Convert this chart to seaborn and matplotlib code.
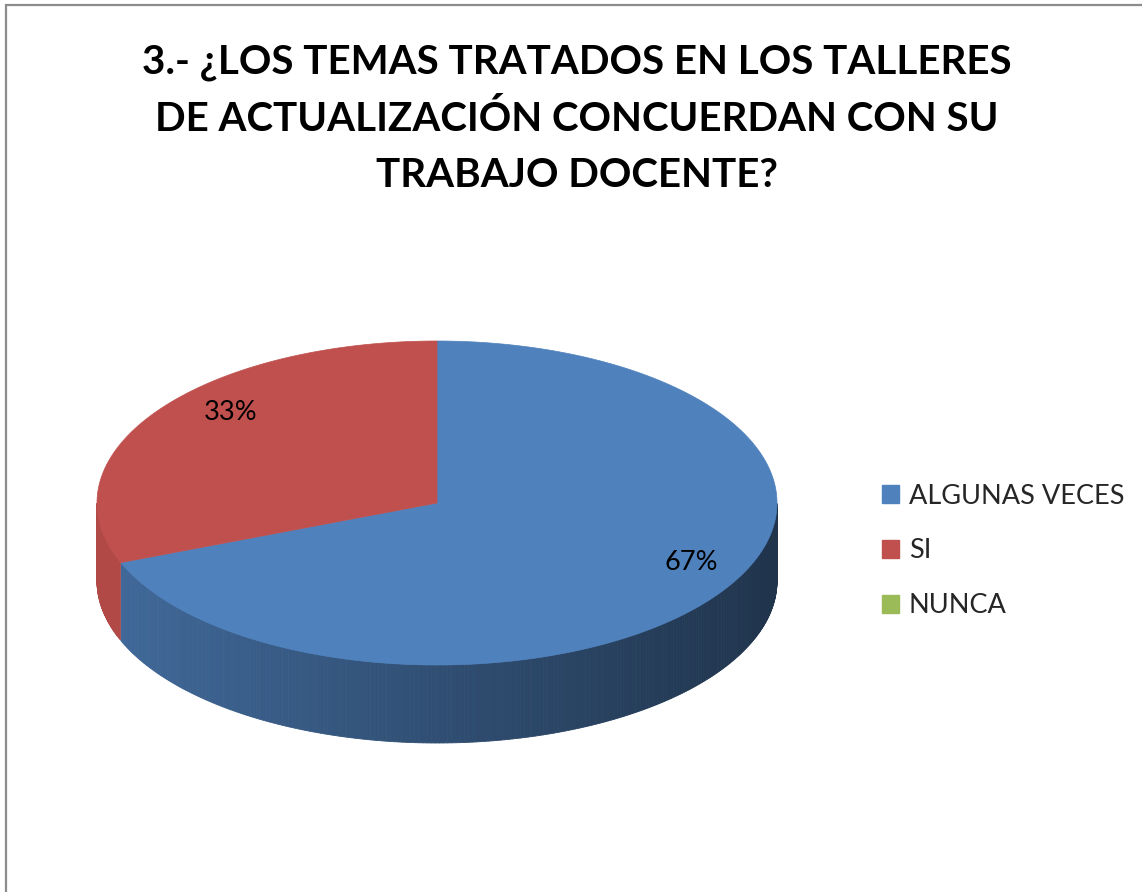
import numpy as np
import matplotlib
matplotlib.use("Agg")
import matplotlib.pyplot as plt
import seaborn as sns
from matplotlib.patches import Polygon, Patch, Rectangle
import matplotlib.colors as mcolors

# ---- data ----
categories = ["ALGUNAS VECES", "SI", "NUNCA"]
values = [67, 33, 0]
pct_labels = ["67%", "33%", ""]
title = "3.- ¿LOS TEMAS TRATADOS EN LOS TALLERES\nDE ACTUALIZACIÓN CONCUERDAN CON SU\nTRABAJO DOCENTE?"

sns.set_theme(style="white")
plt.rcParams['font.family'] = ['Lato', 'DejaVu Sans']
colors = sns.color_palette(["#4F81BD", "#C0504D", "#9BBB59"])

W, H = 1142, 892
fig = plt.figure(figsize=(W / 100, H / 100), dpi=100)
ax = fig.add_axes([0, 0, 1, 1])
ax.set_xlim(0, W)
ax.set_ylim(H, 0)
ax.axis("off")

# pie geometry (pixel-like coordinates)
cx, cy, a, b, depth = 437, 503, 340, 162, 78
persp = 1.39  # angular perspective stretch

def pt(t):
    r = np.radians(t)
    rs = np.arctan2(np.sin(r), persp * np.cos(r))
    return cx + a * np.cos(rs), cy - b * np.sin(rs)

def screen_angle(t):
    r = np.radians(t)
    return np.degrees(np.arctan2(np.sin(r), persp * np.cos(r))) % 360

total = sum(values)
start = 90.0
spans = []
cum = 0
for v in values:
    t1 = start - cum / total * 360
    cum += v
    t2 = start - cum / total * 360
    spans.append((t2, t1))

def shade(c, f):
    c = np.array(mcolors.to_rgb(c))
    return tuple(np.clip(c * f, 0, 1))

# side walls
for i, ((t2, t1), col, v) in enumerate(zip(spans, colors, values)):
    if v == 0:
        continue
    ts = np.arange(t2, t1 + 0.01, 0.5)
    for k in range(len(ts) - 1):
        ta, tb = ts[k], ts[k + 1]
        xa, ya = pt(ta)
        xb, yb = pt(tb)
        tm = (ta + tb) / 2
        if np.sin(np.radians(tm)) >= 0:
            continue
        if i == 0:
            f = 0.61 - 0.21 * np.cos(np.radians(screen_angle(tm)))
        else:
            f = 0.92
        fc = shade(col, f)
        ax.add_patch(Polygon([(xa, ya), (xb, yb), (xb, yb + depth), (xa, ya + depth)],
                             closed=True, facecolor=fc, edgecolor=fc, linewidth=0.6))

# top faces
for (t2, t1), col, v in zip(spans, colors, values):
    if v == 0:
        continue
    ts = np.linspace(t2, t1, 300)
    pts = [(cx, cy)] + [pt(t) for t in ts]
    ax.add_patch(Polygon(pts, closed=True, facecolor=col, edgecolor=col, linewidth=0.5))

# percentage labels
ax.text(231, 413, pct_labels[1], fontsize=19.5, ha="center", va="center", color="black")
ax.text(691, 563, pct_labels[0], fontsize=19.5, ha="center", va="center", color="black")

# title
ax.text(577, 119, title, fontsize=29, fontweight="bold", ha="center", va="center",
        linespacing=1.62, color="black")

# legend
handles = [Patch(facecolor=c, edgecolor=c) for c in colors]
fig.legend(handles, categories, loc="center left", bbox_to_anchor=(858 / W, 1 - 551 / H),
           frameon=False, fontsize=19.5, handlelength=0.62, handleheight=0.62,
           handletextpad=0.35, labelspacing=1.1)

# border
fig.patches.append(Rectangle((5.5 / W, -0.02), 1.05, 1 - 5 / H + 0.02,
                             transform=fig.transFigure, fill=False,
                             edgecolor="#8c8c8c", linewidth=1.6))

fig.savefig("out.png", dpi=100)
